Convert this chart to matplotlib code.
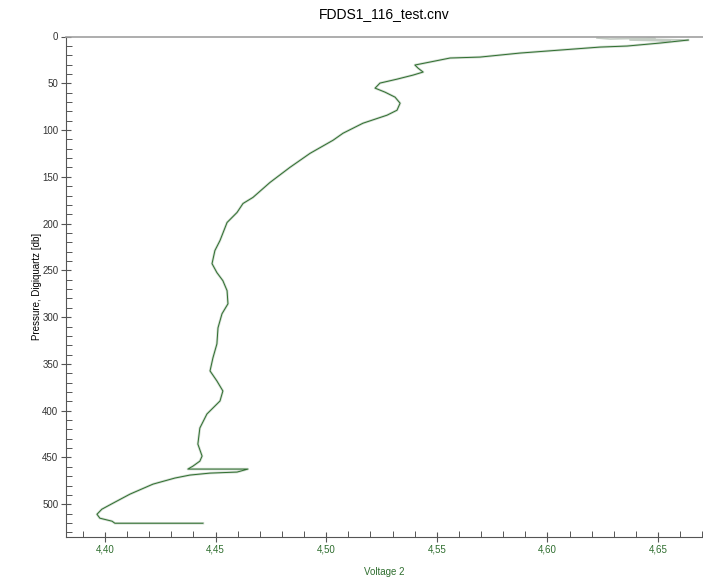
import matplotlib.pyplot as plt
from matplotlib.ticker import MultipleLocator, FuncFormatter

plt.rcParams['font.family'] = ['Liberation Sans', 'DejaVu Sans']

# surface soak before the downcast
soak_volt = [4.6224, 4.6283, 4.6486, 4.6373, 4.6554, 4.6419, 4.6636]
soak_pres = [1.6, 2.7, 1.6, 3.8, 4.8, 2.7, 3.8]

# downcast: Voltage 2 vs pressure
volt = [4.6636, 4.6509, 4.6360, 4.6238, 4.6057, 4.5876, 4.5695, 4.5560, 4.5469,
        4.5401, 4.5415, 4.5438, 4.5392, 4.5320, 4.5243, 4.5221, 4.5266, 4.5311,
        4.5334, 4.5320, 4.5275, 4.5166, 4.5076, 4.5031, 4.4927, 4.4836, 4.4746,
        4.4669, 4.4624, 4.4597, 4.4552, 4.4520, 4.4497, 4.4484, 4.4506, 4.4533,
        4.4552, 4.4556, 4.4529, 4.4511, 4.4506, 4.4488, 4.4475, 4.4506, 4.4533,
        4.4520, 4.4461, 4.4429, 4.4420, 4.4439, 4.4429, 4.4398, 4.4375, 4.4646,
        4.4597, 4.4475, 4.4384, 4.4316, 4.4217, 4.4113, 4.4036, 4.3986, 4.3964,
        4.3977, 4.4032, 4.4045, 4.4443]
pres = [3.8, 7.0, 10.2, 11.3, 14.5, 17.7, 22.0, 23.0, 27.3,
        30.5, 33.8, 38.0, 41.3, 45.6, 49.8, 55.2, 59.5, 64.8,
        71.3, 78.8, 84.1, 92.7, 103.4, 110.9, 124.9, 139.9, 156.0,
        172.0, 178.5, 188.1, 198.8, 218.1, 228.8, 242.8, 252.4, 261.0,
        271.7, 285.7, 296.4, 311.4, 328.6, 343.6, 357.5, 368.2, 378.9,
        389.6, 403.5, 418.5, 435.7, 448.5, 453.9, 459.2, 462.4, 462.4,
        465.6, 466.7, 468.8, 472.0, 478.5, 489.2, 498.9, 505.3, 510.7,
        514.9, 518.1, 520.3, 520.3]

green = '#2f6e2f'

fig = plt.figure(figsize=(7.03, 5.78), dpi=100)
ax = fig.add_axes([66 / 703, 41 / 578, 1 - 66 / 703, 500.5 / 578])

ax.plot(soak_volt, soak_pres, color='#c4ccc4', lw=1.2)
ax.plot(volt, pres, color='#a9bda9', lw=1.8, alpha=0.55)
ax.plot(volt, pres, color=green, lw=0.7)

ax.set_xlim(4.3824, 4.6703)
ax.set_ylim(535, 0)

ax.xaxis.set_major_locator(MultipleLocator(0.05))
ax.xaxis.set_minor_locator(MultipleLocator(0.01))
ax.yaxis.set_major_locator(MultipleLocator(50))
ax.yaxis.set_minor_locator(MultipleLocator(10))
ax.xaxis.set_major_formatter(FuncFormatter(lambda v, p: f'{v:.2f}'.replace('.', ',')))

ax.tick_params(axis='both', which='major', direction='inout', length=7,
               width=0.8, color='#555555', labelsize=7)
ax.tick_params(axis='both', which='minor', direction='in', length=4,
               width=0.7, color='#555555')
ax.tick_params(axis='x', labelcolor=green, pad=2)
ax.tick_params(axis='y', labelcolor='#333333', pad=2)

ax.spines['right'].set_visible(False)
ax.spines['top'].set_color('#a0a0a0')
ax.spines['top'].set_linewidth(1.2)
ax.spines['left'].set_color('#555555')
ax.spines['bottom'].set_color('#555555')

ax.set_title('FDDS1_116_test.cnv', fontsize=10, pad=13)
ax.set_xlabel('Voltage 2', fontsize=7, color=green)
ax.xaxis.set_label_coords(0.5, -0.059)
ax.set_ylabel('Pressure, Digiquartz [db]', fontsize=7)
ax.yaxis.set_label_coords(-0.038, 0.5)

fig.savefig('out.png', dpi=100)
